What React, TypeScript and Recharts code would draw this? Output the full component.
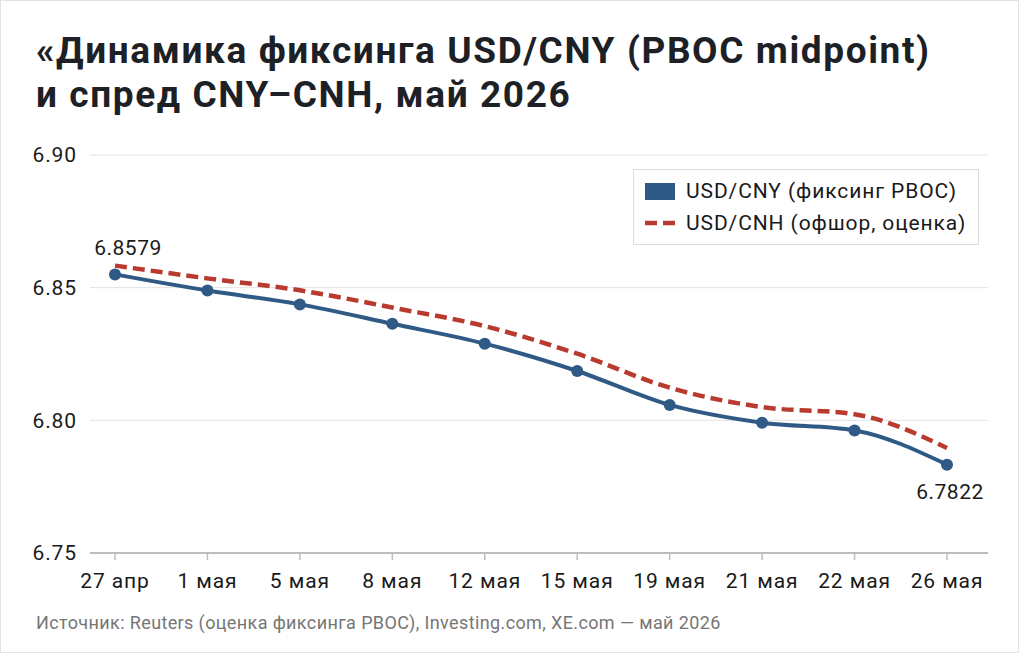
import { LineChart, Line, XAxis, YAxis, CartesianGrid } from 'recharts'

const dates = ['27 апр', '1 мая', '5 мая', '8 мая', '12 мая', '15 мая', '19 мая', '21 мая', '22 мая', '26 мая']
const cnyFixing = [6.855, 6.8489, 6.8437, 6.8364, 6.8289, 6.8186, 6.8058, 6.7991, 6.7962, 6.7833]
const cnhOffshore = [6.8583, 6.8535, 6.849, 6.8425, 6.8355, 6.8251, 6.8123, 6.805, 6.8023, 6.7896]
const yTicks = [6.75, 6.8, 6.85, 6.9]
const endLabels: Record<number, string> = { 0: '6.8579', 9: '6.7822' }

const seriesNames = ['USD/CNY (фиксинг PBOC)', 'USD/CNH (офшор, оценка)']
const BLUE = '#2f5a85'
const RED = '#b93a2f'
const FONT = 'Roboto, "Noto Sans", sans-serif'

const data = dates.map((d, i) => ({ date: d, cny: cnyFixing[i], cnh: cnhOffshore[i] }))

const CnyDot = (props: any) => {
  const { cx, cy, index } = props
  const label = endLabels[index]
  const first = index === 0
  return (
    <g key={`dot-${index}`}>
      <circle cx={cx} cy={cy} r={6} fill={BLUE} />
      {label && (
        <text
          x={first ? cx + 13 : cx + 3}
          y={first ? cy - 26 : cy + 27}
          textAnchor="middle"
          dominantBaseline="central"
          fontSize={21}
          letterSpacing={0.5}
          fill="#1a1a1a"
          fontFamily={FONT}
        >
          {label}
        </text>
      )}
    </g>
  )
}

// legend sits on top of the plot, drawn as plain html so it doesn't eat chart space
const LegendBox = () => (
  <div
    style={{
      position: 'absolute',
      left: 632,
      top: 168,
      width: 344,
      height: 74,
      border: '1px solid #dcdcdc',
      background: '#fff',
      fontSize: 21,
      letterSpacing: 0.9,
      color: '#1a1a1a',
    }}
  >
    <div style={{ display: 'flex', alignItems: 'center', height: 32, marginTop: 5 }}>
      <div style={{ width: 30, height: 17, background: BLUE, marginLeft: 11, marginRight: 11 }} />
      <span>{seriesNames[0]}</span>
    </div>
    <div style={{ display: 'flex', alignItems: 'center', height: 32 }}>
      <svg width={30} height={6} style={{ marginLeft: 11, marginRight: 11 }}>
        <line x1={0} y1={3} x2={30} y2={3} stroke={RED} strokeWidth={4.5} strokeDasharray="12 6" />
      </svg>
      <span>{seriesNames[1]}</span>
    </div>
  </div>
)

export default function App() {
  const tickStyle = { fontSize: 21, fill: '#1a1a1a', fontFamily: FONT, letterSpacing: 0.9 }
  return (
    <div
      style={{
        position: 'absolute',
        left: 0,
        top: 0,
        width: 1017,
        height: 651,
        border: '1px solid #e3e3e3',
        background: '#fff',
        fontFamily: FONT,
      }}
    >
      <div
        style={{
          position: 'absolute',
          left: 35,
          top: 28,
          fontSize: 37,
          fontWeight: 700,
          letterSpacing: 1.6,
          lineHeight: '44px',
          color: '#1d2126',
          whiteSpace: 'nowrap',
        }}
      >
        «Динамика фиксинга USD/CNY (PBOC midpoint)
        <br />и спред CNY–CNH, май 2026
      </div>
      <div style={{ position: 'absolute', left: -1, top: -1 }}>
        <LineChart width={1024} height={657} data={data} margin={{ top: 155, right: 36, bottom: 64, left: 0 }}>
          <CartesianGrid vertical={false} stroke="#e2e2e2" strokeWidth={1} />
          <XAxis
            dataKey="date"
            padding={{ left: 25, right: 41 }}
            height={40}
            axisLine={{ stroke: '#bdbdbd', strokeWidth: 2 }}
            tickLine={{ stroke: '#bdbdbd', strokeWidth: 1.5 }}
            tickSize={7}
            tickMargin={13}
            interval={0}
            tick={tickStyle}
          />
          <YAxis
            domain={[6.75, 6.9]}
            ticks={yTicks}
            width={90}
            axisLine={false}
            tickLine={false}
            tickSize={6}
            tickMargin={7}
            tickFormatter={(v: number) => v.toFixed(2)}
            tick={tickStyle}
          />
          <Line
            type="monotone"
            dataKey="cnh"
            name={seriesNames[1]}
            stroke={RED}
            strokeWidth={4.5}
            strokeDasharray="12 6"
            dot={false}
            activeDot={false}
            isAnimationActive={false}
          />
          <Line
            type="monotone"
            dataKey="cny"
            name={seriesNames[0]}
            stroke={BLUE}
            strokeWidth={4}
            dot={CnyDot}
            activeDot={false}
            isAnimationActive={false}
          />
        </LineChart>
      </div>
      <LegendBox />
      <div
        style={{
          position: 'absolute',
          left: 35,
          top: 611,
          fontSize: 18,
          letterSpacing: 0.38,
          color: '#767676',
          whiteSpace: 'nowrap',
        }}
      >
        Источник: Reuters (оценка фиксинга PBOC), Investing.com, XE.com — май 2026
      </div>
    </div>
  )
}
